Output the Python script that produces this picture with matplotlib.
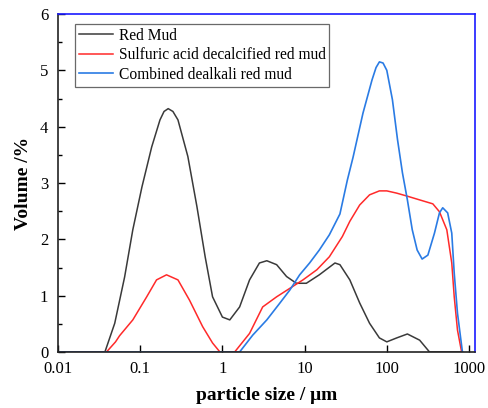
import matplotlib
matplotlib.use("Agg")
import matplotlib.pyplot as plt
from matplotlib.ticker import FixedLocator, NullLocator, MultipleLocator, FixedFormatter

# ---- data (particle size in µm, volume in %) ----
rm_x = [0.01, 0.0372, 0.049, 0.0646, 0.0813, 0.105, 0.138, 0.174, 0.195, 0.219, 0.25,
        0.288, 0.380, 0.490, 0.617, 0.759, 1.0, 1.23, 1.62, 2.14, 2.82, 3.47, 4.57,
        6.03, 7.94, 10.5, 15.1, 23.4, 26.9, 35.5, 46.8, 61.7, 81.3, 100, 132,
        178, 251, 331, 832]
rm_y = [0, 0, 0.51, 1.33, 2.17, 2.93, 3.64, 4.12, 4.27, 4.32, 4.27,
        4.12, 3.47, 2.58, 1.69, 0.98, 0.62, 0.57, 0.80, 1.28, 1.58, 1.62, 1.55,
        1.34, 1.22, 1.22, 1.37, 1.58, 1.55, 1.28, 0.87, 0.51, 0.25, 0.18, 0.25,
        0.32, 0.21, 0, 0]

sa_x = [0.01, 0.0389, 0.0501, 0.0562, 0.0813, 0.120, 0.158, 0.209, 0.288, 0.398, 0.575,
        0.759, 0.933, 1.41, 2.14, 3.09, 4.57, 6.61, 9.55, 14.1, 20.0, 28.8,
        35.5, 46.8, 61.7, 81.3, 100, 132, 174, 251, 363, 437, 537, 617, 661,
        724, 813]
sa_y = [0, 0, 0.18, 0.29, 0.57, 0.98, 1.28, 1.37, 1.28, 0.92, 0.45,
        0.16, 0, 0, 0.33, 0.80, 0.98, 1.13, 1.28, 1.46, 1.69, 2.05,
        2.32, 2.61, 2.79, 2.86, 2.86, 2.82, 2.77, 2.70, 2.63, 2.49, 2.17, 1.58, 0.98,
        0.39, 0]

cd_x = [0.01, 1.62, 2.34, 3.47, 5.01, 6.61, 8.71, 11.5, 15.1, 20.0, 26.9,
        33.1, 38.9, 51.3, 66.1, 74.0, 81.3, 90.0, 100, 117, 135, 155, 178, 204, 234,
        269, 316, 380, 437, 479, 550, 617, 661, 724, 832]
cd_y = [0, 0, 0.30, 0.57, 0.87, 1.10, 1.37, 1.58, 1.81, 2.08, 2.45,
        3.05, 3.46, 4.24, 4.83, 5.05, 5.15, 5.13, 5.0, 4.48, 3.77, 3.18, 2.70, 2.17, 1.81,
        1.65, 1.72, 2.11, 2.47, 2.56, 2.47, 2.11, 1.40, 0.69, 0]

labels = ["Red Mud", "Sulfuric acid decalcified red mud", "Combined dealkali red mud"]
xticks = [0.01, 0.1, 1, 10, 100, 1000]
xtick_labels = ["0.01", "0.1", "1", "10", "100", "1000"]
yticks = [0, 1, 2, 3, 4, 5, 6]

plt.rcParams['font.family'] = ['Liberation Serif', 'DejaVu Serif']

fig = plt.figure(figsize=(4.89, 4.08), dpi=100)
ax = fig.add_axes([58/489, 1-352/408, (475-58)/489, (352-14)/408])

ax.plot(rm_x, rm_y, color='#3a3a3a', lw=1.1, label=labels[0])
ax.plot(sa_x, sa_y, color='#ff2a2a', lw=1.1, label=labels[1])
ax.plot(cd_x, cd_y, color='#2a7be4', lw=1.2, label=labels[2])

ax.set_xscale('log')
ax.set_xlim(0.01, 1183)
ax.set_ylim(0, 6)
ax.xaxis.set_major_locator(FixedLocator(xticks))
ax.xaxis.set_major_formatter(FixedFormatter(xtick_labels))
ax.xaxis.set_minor_locator(NullLocator())
ax.yaxis.set_major_locator(FixedLocator(yticks))
ax.yaxis.set_minor_locator(MultipleLocator(0.5))

ax.tick_params(which='both', direction='in', top=False, right=False, labelsize=12, colors='black')
ax.tick_params(which='major', length=5, width=1)
ax.tick_params(which='minor', length=3, width=1)
ax.tick_params(axis='x', which='major', pad=6.5)
ax.tick_params(axis='y', which='major', pad=7)

for s in ['left', 'bottom']:
    ax.spines[s].set_color('#222222')
    ax.spines[s].set_linewidth(1.2)
for s in ['top', 'right']:
    ax.spines[s].set_color('#1a1aff')
    ax.spines[s].set_linewidth(1.2)

ax.set_xlabel('particle size / μm', fontsize=14, fontweight='bold', labelpad=7)
ax.set_ylabel('Volume /%', fontsize=14, fontweight='bold', labelpad=6)

leg = ax.legend(loc='upper left', bbox_to_anchor=(17/417, 1-10/338), borderaxespad=0,
                fontsize=11.2, handlelength=2.2, handletextpad=0.35, labelspacing=0.22,
                fancybox=False, frameon=True, borderpad=0.25)
leg.get_frame().set_edgecolor('#444444')
leg.get_frame().set_linewidth(0.9)

fig.savefig('out.png', dpi=100)
